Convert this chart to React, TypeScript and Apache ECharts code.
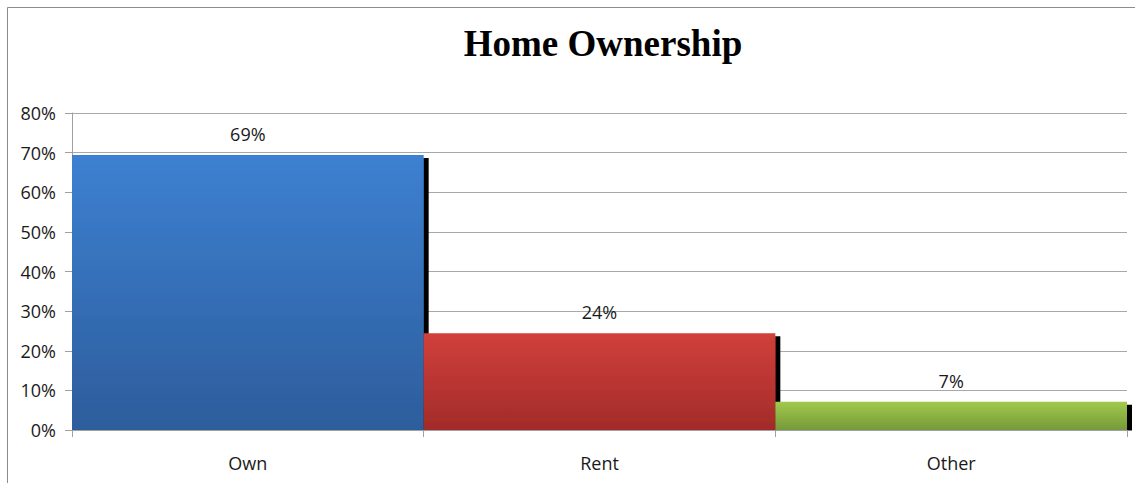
import React, { useEffect, useRef } from "react";
import * as echarts from "echarts";

const categories = ["Own", "Rent", "Other"];
const values = [69.4, 24.4, 7.1];
const yTicks = { min: 0, max: 80, interval: 10 };
const titleText = "Home Ownership";
const gradients = [
  ["#3d80d1", "#2d5d9c"],
  ["#d1403b", "#a22b29"],
  ["#a0ca4c", "#76993a"],
];

export default function App() {
  const ref = useRef<HTMLDivElement>(null);
  useEffect(() => {
    const chart = echarts.init(ref.current!, undefined, { renderer: "svg" });
    const font = "'Open Sans', sans-serif";
    chart.setOption({
      animation: false,
      backgroundColor: "#ffffff",
      graphic: [
        {
          type: "rect",
          shape: { x: 7.5, y: 7.5, width: 1300, height: 700 },
          style: { fill: "none", stroke: "#8c8c8c", lineWidth: 1 },
          silent: true,
          z: -10,
        },
        {
          type: "rect",
          shape: { x: 72, y: 430.5, width: 1100, height: 5 },
          style: { fill: "#ffffff" },
          silent: true,
          z: 100,
        },
        {
          type: "text",
          x: 603,
          y: 43,
          style: {
            text: titleText,
            fontFamily: "'Liberation Serif', 'Times New Roman', serif",
            fontWeight: "bold",
            fontSize: 37,
            fill: "#000",
            textAlign: "center",
            textVerticalAlign: "middle",
          },
        },
      ],
      grid: { left: 72, right: 8, top: 113, bottom: 53, containLabel: false },
      xAxis: {
        type: "category",
        data: categories,
        z: 120,
        axisLine: { show: true, lineStyle: { color: "#a0a0a0", width: 1 } },
        axisTick: { show: true, length: 7, lineStyle: { color: "#a0a0a0" } },
        axisLabel: { margin: 24, fontFamily: font, fontSize: 18, color: "#1a1a1a" },
        splitLine: { show: false },
      },
      yAxis: {
        type: "value",
        min: yTicks.min,
        max: yTicks.max,
        interval: yTicks.interval,
        axisLine: { show: true, lineStyle: { color: "#a0a0a0", width: 1 } },
        axisTick: { show: true, length: 7, lineStyle: { color: "#a0a0a0" } },
        axisLabel: {
          margin: 16,
          fontFamily: font,
          fontSize: 18,
          color: "#1a1a1a",
          formatter: "{value}%",
        },
        splitLine: { show: true, lineStyle: { color: "#a8a8a8", width: 1 } },
      },
      series: [
        {
          type: "bar",
          barWidth: "100%",
          barCategoryGap: 0,
          data: values.map((v, i) => ({
            value: v,
            itemStyle: {
              color: new echarts.graphic.LinearGradient(0, 0, 0, 1, [
                { offset: 0, color: gradients[i][0] },
                { offset: 1, color: gradients[i][1] },
              ]),
              shadowColor: "#000000",
              shadowBlur: 0,
              shadowOffsetX: 5,
              shadowOffsetY: 3,
            },
          })),
          label: {
            show: true,
            position: "top",
            distance: 12,
            fontFamily: font,
            fontSize: 18,
            color: "#1a1a1a",
            formatter: (p: any) => Math.round(p.value) + "%",
          },
        },
      ],
    });
    return () => chart.dispose();
  }, []);
  return (
    <div
      ref={ref}
      style={{ position: "fixed", left: 0, top: 0, width: 1135, height: 483 }}
    />
  );
}
